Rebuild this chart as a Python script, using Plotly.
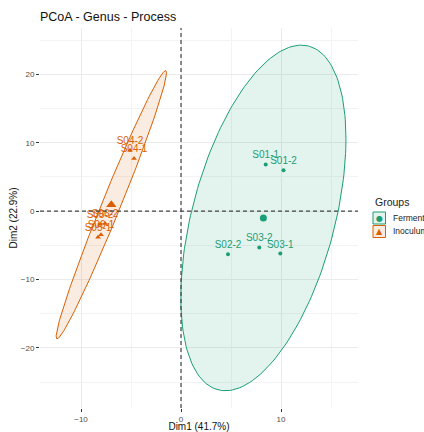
import numpy as np
import plotly.graph_objects as go

# ---- data ----
groups = ["Fermented", "Inoculum"]
ferm_labels = ["S01-1", "S01-2", "S02-2", "S03-1", "S03-2"]
ferm_x = [8.47, 10.25, 4.7, 9.93, 7.83]
ferm_y = [6.84, 6.0, -6.3, -6.2, -5.3]
inoc_labels = ["S04-1", "S04-2", "S05-2", "S06-2", "S05-1", "S06-1"]
inoc_x = [-4.7, -5.1, -8.1, -7.6, -8.3, -8.0]
inoc_y = [7.7, 8.9, -1.9, -1.8, -3.8, -3.45]
x_title = "Dim1 (41.7%)"
y_title = "Dim2 (22.9%)"
title = "PCoA - Genus - Process"

colors = {"Fermented": "#1B9E77", "Inoculum": "#D95F02"}
fills = {"Fermented": "rgba(27,158,119,0.12)", "Inoculum": "rgba(217,95,2,0.12)"}
symbols = {"Fermented": "circle", "Inoculum": "triangle-up"}

FONT = "Liberation Sans, Arial, sans-serif"

def conf_ellipse(x, y, level=0.95, npts=200):
    x = np.asarray(x, float); y = np.asarray(y, float)
    n = len(x)
    cov = np.cov(np.vstack([x, y]))
    dfd = n - 1
    fq = (dfd / 2.0) * ((1 - level) ** (-2.0 / dfd) - 1)  # F(level, 2, dfd)
    radius = np.sqrt(2 * fq)
    R = np.linalg.cholesky(cov).T
    t = np.linspace(0, 2 * np.pi, npts)
    circ = np.column_stack([np.cos(t), np.sin(t)])
    pts = circ @ R * radius
    return x.mean() + pts[:, 0], y.mean() + pts[:, 1]

fig = go.Figure()
data = {"Fermented": (ferm_x, ferm_y, ferm_labels), "Inoculum": (inoc_x, inoc_y, inoc_labels)}

for g in groups:
    xs, ys, labs = data[g]
    ex, ey = conf_ellipse(xs, ys)
    fig.add_trace(go.Scatter(x=ex, y=ey, mode="lines", fill="toself",
                             fillcolor=fills[g], line=dict(color=colors[g], width=1),
                             showlegend=False, hoverinfo="skip"))

for g in groups:
    xs, ys, labs = data[g]
    fig.add_trace(go.Scatter(x=xs, y=ys, mode="markers+text", text=labs,
                             textposition="top center",
                             textfont=dict(family=FONT, size=10, color=colors[g]),
                             marker=dict(symbol=symbols[g], size=4 if g == "Fermented" else 5,
                                         color=colors[g]),
                             showlegend=False))
    fig.add_trace(go.Scatter(x=[np.mean(xs)], y=[np.mean(ys)], mode="markers",
                             marker=dict(symbol=symbols[g], size=7 if g == "Fermented" else 9,
                                         color=colors[g]),
                             showlegend=False))

# dashed reference lines
fig.add_shape(type="line", xref="x", yref="paper", x0=0, x1=0, y0=0, y1=1,
              line=dict(color="#444444", width=1.2, dash="4px,3px"))
fig.add_shape(type="line", xref="paper", yref="y", x0=0, x1=1, y0=0, y1=0,
              line=dict(color="#444444", width=1.2, dash="4px,3px"))

# manual legend (pixel -> paper)
L, R_, T, B = 40, 358, 28, 408
def px(x): return (x - L) / (R_ - L)
def py(y): return (B - y) / (B - T)

fig.add_annotation(x=px(372.5), y=py(201.5), xref="paper", yref="paper", text="Groups",
                   showarrow=False, xanchor="left", yanchor="middle",
                   font=dict(family=FONT, size=10.5, color="#222"))
key_rows = [("Fermented", 218.0, "●"), ("Inoculum", 231.5, "▲")]
for g, yc, glyph in key_rows:
    fig.add_shape(type="rect", xref="paper", yref="paper",
                  x0=px(373), x1=px(385.5), y0=py(yc - 6), y1=py(yc + 6),
                  line=dict(color=colors[g], width=1), fillcolor=fills[g])
    fig.add_annotation(x=px(379.2), y=py(yc), xref="paper", yref="paper", text=glyph,
                       showarrow=False, xanchor="center", yanchor="middle",
                       font=dict(family="DejaVu Sans", size=8, color=colors[g]))
    fig.add_annotation(x=px(390.5), y=py(yc), xref="paper", yref="paper", text=g,
                       showarrow=False, xanchor="left", yanchor="middle",
                       font=dict(family=FONT, size=8.5, color="#222"))

axis_common = dict(showline=False, zeroline=False, ticks="outside", ticklen=3,
                   tickcolor="#333333", tickwidth=1, gridcolor="#EBEBEB", gridwidth=1,
                   tickfont=dict(family=FONT, size=8, color="#4D4D4D"),
                   automargin=False)
fig.update_xaxes(range=[-14.1, 17.7], tick0=0, dtick=10,
                 minor=dict(dtick=5, tick0=0, showgrid=True, gridcolor="#F3F3F3", gridwidth=0.6, ticks=""),
                 title=dict(text=x_title, standoff=3, font=dict(family=FONT, size=10, color="#111")),
                 **axis_common)
fig.update_yaxes(range=[-28.8, 26.8], tick0=0, dtick=10,
                 minor=dict(dtick=5, tick0=0, showgrid=True, gridcolor="#F3F3F3", gridwidth=0.6, ticks=""),
                 title=dict(text=y_title, standoff=1, font=dict(family=FONT, size=10, color="#111")),
                 **axis_common)

fig.update_layout(
    width=424, height=432,
    margin=dict(l=40, r=66, t=28, b=24),
    paper_bgcolor="white", plot_bgcolor="white",
    title=dict(text=title, x=40 / 424, xref="container", xanchor="left",
               y=1 - 17 / 432, yref="container", yanchor="middle",
               font=dict(family=FONT, size=12.5, color="#111")),
    showlegend=False,
)

fig.write_html("out.html", config={"displayModeBar": False},
               post_script="document.body.style.margin='0px';document.body.style.padding='0px';")
